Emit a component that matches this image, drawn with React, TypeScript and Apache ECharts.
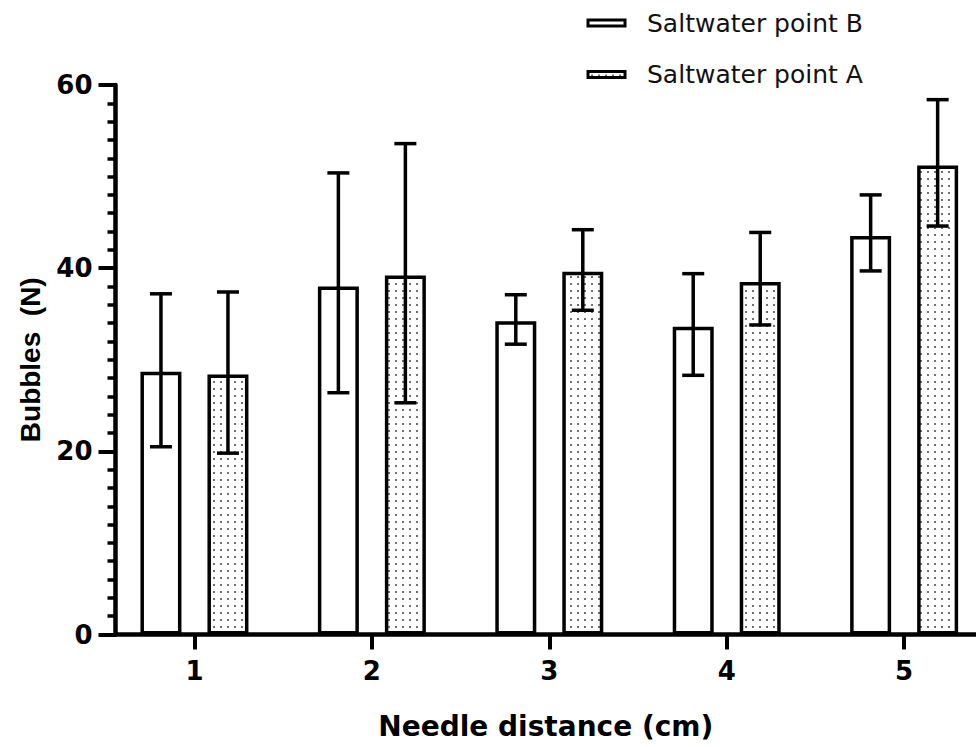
import React, { useEffect, useRef } from 'react';
import * as echarts from 'echarts';

// Needle distance (cm)
const categories = [1, 2, 3, 4, 5];
const seriesNames = ['Saltwater point B', 'Saltwater point A'];

// Saltwater point B: mean, lower and upper error limits
const pointB = [28.7, 38.0, 34.2, 33.6, 43.5];
const pointBLow = [20.5, 26.4, 31.7, 28.3, 39.7];
const pointBHigh = [37.2, 50.4, 37.1, 39.4, 48.0];

// Saltwater point A: mean, lower and upper error limits
const pointA = [28.4, 39.2, 39.6, 38.5, 51.2];
const pointALow = [19.8, 25.3, 35.4, 33.8, 44.6];
const pointAHigh = [37.4, 53.6, 44.2, 43.9, 58.4];

const yTicks = [0, 20, 40, 60];

const BAR_W = 41;
const BAR_GAP = 26;
const OFFSET = (BAR_W + BAR_GAP) / 2;

function errorSeries(low: number[], high: number[], offset: number) {
  return {
    type: 'custom',
    z: 5,
    silent: true,
    encode: { x: 0, y: [1, 2] },
    data: categories.map((c, i) => [c, low[i], high[i]]),
    renderItem: (params: any, api: any) => {
      const x = api.value(0);
      const pLo = api.coord([x, api.value(1)]);
      const pHi = api.coord([x, api.value(2)]);
      const cx = pLo[0] + offset;
      const style = { stroke: '#000', lineWidth: 3.5 };
      return {
        type: 'group',
        children: [
          { type: 'line', shape: { x1: cx, y1: pLo[1], x2: cx, y2: pHi[1] }, style },
          { type: 'line', shape: { x1: cx - 11, y1: pLo[1], x2: cx + 11, y2: pLo[1] }, style },
          { type: 'line', shape: { x1: cx - 11, y1: pHi[1], x2: cx + 11, y2: pHi[1] }, style },
        ],
      };
    },
  };
}

export default function App() {
  const ref = useRef<HTMLDivElement>(null);
  useEffect(() => {
    const el = ref.current!;
    const chart = echarts.init(el, null, { renderer: 'svg' });

    const tile = document.createElement('canvas');
    tile.width = 7;
    tile.height = 7;
    const ctx = tile.getContext('2d')!;
    ctx.fillStyle = '#ffffff';
    ctx.fillRect(0, 0, 7, 7);
    ctx.fillStyle = '#707070';
    ctx.fillRect(3, 3, 2, 2);
    const dotted: any = { image: tile, repeat: 'repeat', imageWidth: 7, imageHeight: 7 };

    const tickFont = {
      fontFamily: 'DejaVu Sans',
      fontWeight: 'bold',
      fontSize: 26,
      color: '#000',
    };

    chart.setOption({
      animation: false,
      backgroundColor: '#fff',
      legend: {
        orient: 'vertical',
        left: 581.5,
        top: 3,
        itemWidth: 37,
        itemHeight: 6,
        itemGap: 21.5,
        icon: 'rect',
        itemStyle: { borderColor: '#000', borderWidth: 3 },
        textStyle: {
          fontFamily: 'DejaVu Sans',
          fontSize: 25,
          lineHeight: 30,
          color: '#111',
          padding: [0, 0, 0, 17],
        },
        data: seriesNames,
      },
      grid: {
        left: 115.5,
        right: 0,
        top: 85,
        bottom: 112.5,
        containLabel: false,
        outerBoundsMode: 'none',
      },
      xAxis: {
        type: 'value',
        min: 0.555,
        max: 5.405,
        name: 'Needle distance (cm)',
        nameLocation: 'middle',
        nameGap: 78,
        nameTextStyle: {
          fontFamily: 'DejaVu Sans',
          fontWeight: 'bold',
          fontSize: 28,
          color: '#000',
        },
        axisLine: { onZero: false, lineStyle: { color: '#000', width: 4.5 } },
        axisTick: { show: true, length: 15, lineStyle: { color: '#000', width: 4 }, customValues: categories },
        axisLabel: { ...tickFont, margin: 23, customValues: categories },
        splitLine: { show: false },
      },
      yAxis: {
        type: 'value',
        min: yTicks[0],
        max: yTicks[yTicks.length - 1],
        interval: 20,
        name: 'Bubbles  (N)',
        nameLocation: 'middle',
        nameGap: 71,
        nameTextStyle: {
          fontFamily: 'Liberation Sans',
          fontWeight: 'bold',
          fontSize: 28,
          color: '#000',
        },
        axisLine: { show: true, onZero: false, lineStyle: { color: '#000', width: 4.5 } },
        axisTick: { show: true, length: 17, lineStyle: { color: '#000', width: 4 } },
        minorTick: { show: true, splitNumber: 10, length: 8, lineStyle: { color: '#000', width: 3.5 } },
        axisLabel: { ...tickFont, margin: 23 },
        splitLine: { show: false },
        minorSplitLine: { show: false },
      },
      series: [
        {
          name: seriesNames[0],
          type: 'bar',
          z: 2,
          barWidth: BAR_W,
          barGap: `${(BAR_GAP / BAR_W) * 100}%`,
          itemStyle: { color: '#fff', borderColor: '#000', borderWidth: 3.5 },
          data: categories.map((c, i) => [c, pointB[i]]),
        },
        {
          name: seriesNames[1],
          type: 'bar',
          z: 2,
          barWidth: BAR_W,
          barGap: `${(BAR_GAP / BAR_W) * 100}%`,
          itemStyle: { color: dotted, borderColor: '#000', borderWidth: 3.5 },
          data: categories.map((c, i) => [c, pointA[i]]),
        },
        errorSeries(pointBLow, pointBHigh, -OFFSET),
        errorSeries(pointALow, pointAHigh, OFFSET),
      ],
    });

    return () => chart.dispose();
  }, []);

  return (
    <div
      ref={ref}
      style={{ position: 'fixed', left: 0, top: 0, width: 976, height: 747 }}
    />
  );
}
